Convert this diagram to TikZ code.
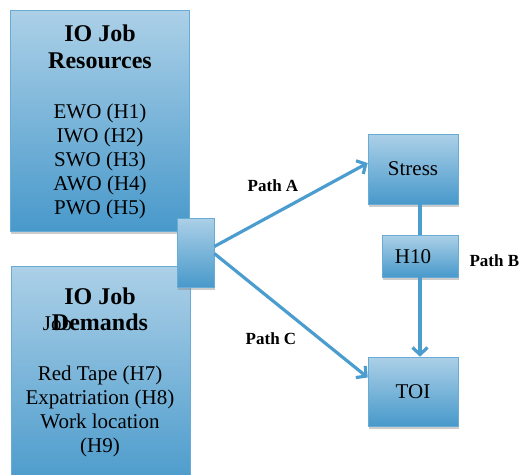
\documentclass[tikz,border=0pt]{standalone}
\usepackage{fontspec}
\setmainfont{Liberation Serif}
\usetikzlibrary{positioning, arrows.meta, shadows}
\definecolor{boxTop}{RGB}{172,208,231}
\definecolor{boxBottom}{RGB}{72,153,203}
\definecolor{boxLine}{RGB}{104,172,214}
\definecolor{pathBlue}{RGB}{76,157,207}
\tikzset{ModelBox/.style={%
    shape=rectangle,%
    draw=boxLine,%
    line width=0.6pt,%
    top color=boxTop,%
    bottom color=boxBottom,%
    drop shadow={shadow xshift=0.5pt, shadow yshift=-3pt, opacity=0.4},%
    inner sep=0pt,%
}}
\tikzset{TitleText/.style={%
    font=\fontsize{24}{27}\selectfont\bfseries,%
    anchor=base,%
    inner sep=0pt,%
}}
\tikzset{ItemText/.style={%
    font=\fontsize{21}{24}\selectfont,%
    anchor=base,%
    inner sep=0pt,%
}}
\tikzset{PathLabel/.style={%
    font=\fontsize{17}{20}\selectfont\bfseries,%
    anchor=base,%
    inner sep=0pt,%
}}
\tikzset{PathLine/.style={%
    draw=pathBlue,%
    line width=3.2pt,%
}}
\tikzset{PathArrow/.style={%
    PathLine,%
    -{Straight Barb[length=7pt,width=15pt]},%
}}

\begin{document}
\begin{tikzpicture}[x=1pt, y=-1pt]
    \useasboundingbox (0,0) rectangle (519,474);

    % the two groups of job factors
    \node[ModelBox, minimum width=179pt, minimum height=221pt] (resBox) at (99.5,120.5) {};
    \node[ModelBox, minimum width=179pt, minimum height=226pt] (demBox) at (101,379) {};
    \node[ModelBox, minimum width=37pt, minimum height=69pt] (junction) at (195.5,252.5) {};

    \node[TitleText] (resTitle1) at (100,41.5) {IO Job};
    \node[TitleText] (resTitle2) at (100,68) {Resources};
    \foreach \item [count=\i] in {EWO (H1), IWO (H2), SWO (H3), AWO (H4), PWO (H5)}
        \node[ItemText] (resItem\i) at (100,94+24*\i) {\item};

    \node[ItemText] (demStray) at (57.5,330) {Job};
    \node[TitleText] (demTitle1) at (100,304) {IO Job};
    \node[TitleText] (demTitle2) at (100,330) {Demands};
    \foreach \item [count=\i] in {Red Tape (H7), Expatriation (H8), Work location, (H9)}
        \node[ItemText] (demItem\i) at (100,356+24*\i) {\item};

    % outcomes
    \node[ModelBox, minimum width=90pt, minimum height=70pt, font=\fontsize{21}{24}\selectfont] (stress) at (413,169) {Stress};
    \node[ModelBox, minimum width=76pt, minimum height=42pt] (h10) at (420,256) {};
    \node[ItemText] (h10Text) at (413,263) {H10};
    \node[ModelBox, minimum width=90pt, minimum height=69pt, font=\fontsize{21}{24}\selectfont] (toi) at (413,391.5) {TOI};

    \draw[PathArrow] ([yshift=6pt]junction.east) -- ([yshift=6pt]stress.west);
    \draw[PathArrow] ([yshift=-1pt]junction.east) -- ([yshift=14pt]toi.west);
    \draw[PathLine] (h10.north |- stress.south) -- (h10.north);
    \draw[PathArrow] (h10.south) -- (h10.south |- toi.north);

    \node[PathLabel] (labelA) at (273,191.5) {Path A};
    \node[PathLabel] (labelC) at (271,344) {Path C};
    \node[PathLabel, anchor=west, right=11pt of h10.east, yshift=-5pt] (labelB) {Path B};
\end{tikzpicture}
\end{document}
